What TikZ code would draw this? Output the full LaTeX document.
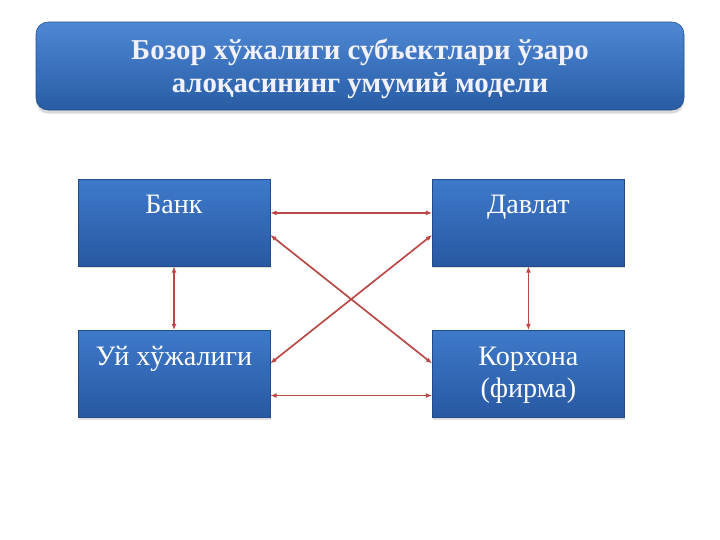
\documentclass[tikz,border=0pt]{standalone}
\usepackage{fontspec}
\setmainfont{Liberation Serif}
\usetikzlibrary{positioning, arrows.meta, shadows}

\definecolor{boxtop}{RGB}{62,122,202}
\definecolor{boxbot}{RGB}{40,88,162}
\definecolor{headtop}{RGB}{78,136,212}
\definecolor{headbot}{RGB}{40,92,165}
\definecolor{linkred}{RGB}{186,72,70}

\begin{document}
\begin{tikzpicture}[
    node distance=1.6cm and 4.05cm,
    head/.style={rectangle, rounded corners=0.3cm, top color=headtop, bottom color=headbot, draw=headbot!85!black, line width=0.4pt, minimum width=16.2cm, minimum height=2.2cm, align=center, text=white!95!blue, font=\bfseries\fontsize{20.5}{23.5}\selectfont, drop shadow={opacity=0.3, shadow xshift=0pt, shadow yshift=-2.5pt}},
    unit/.style={rectangle, top color=boxtop, bottom color=boxbot, draw=boxbot!85!black, line width=0.3pt, minimum width=4.8cm, minimum height=2.175cm, drop shadow={opacity=0.25, shadow xshift=0.6pt, shadow yshift=-1.5pt}},
    unitlabel/.style={text=white, align=center, inner sep=0pt, font=\fontsize{20}{22.8}\selectfont},
    link/.style={{Latex[length=4.5pt,width=3.5pt]}-{Latex[length=4.5pt,width=3.5pt]}, linkred, line width=1.2pt}
  ]
    \useasboundingbox (0,0) rectangle (18,-13.5);

    % Heading
    \node[head] (title) at (9,-1.65) {};
    \node[text=white!95!blue, align=center, font=\bfseries\fontsize{20.5}{23.5}\selectfont] (title-l) at (9,-1.72) {Бозор хўжалиги субъектлари ўзаро\\алоқасининг умумий модели};

    % Four subjects
    \node[unit] (bank) at (4.35,-5.5625) {};
    \node[unit, right=of bank] (state) {};
    \node[unit, below=of bank] (house) {};
    \node[unit, below=of state] (firm) {};

    % Labels at the top of each box
    \node[unitlabel, below=11.5pt of bank.north] (bank-l) {Банк};
    \node[unitlabel, below=11.5pt of state.north] (state-l) {Давлат};
    \node[unitlabel, below=11.5pt of house.north] (house-l) {Уй хўжалиги};
    \node[unitlabel, below=11.5pt of firm.north] (firm-l) {Корхона\\(фирма)};

    % Links between subjects
    \draw[link] ([yshift=0.24cm]bank.east) -- ([yshift=0.24cm]state.west);
    \draw[link] ([yshift=-0.54cm]house.east) -- ([yshift=-0.54cm]firm.west);
    \draw[link] (bank.south) -- (house.north);
    \draw[link] (state.south) -- (firm.north);
    \draw[link] ([yshift=-0.31cm]bank.east) -- ([yshift=0.26cm]firm.west);
    \draw[link] ([yshift=-0.31cm]state.west) -- ([yshift=0.26cm]house.east);
  \end{tikzpicture}
\end{document}
